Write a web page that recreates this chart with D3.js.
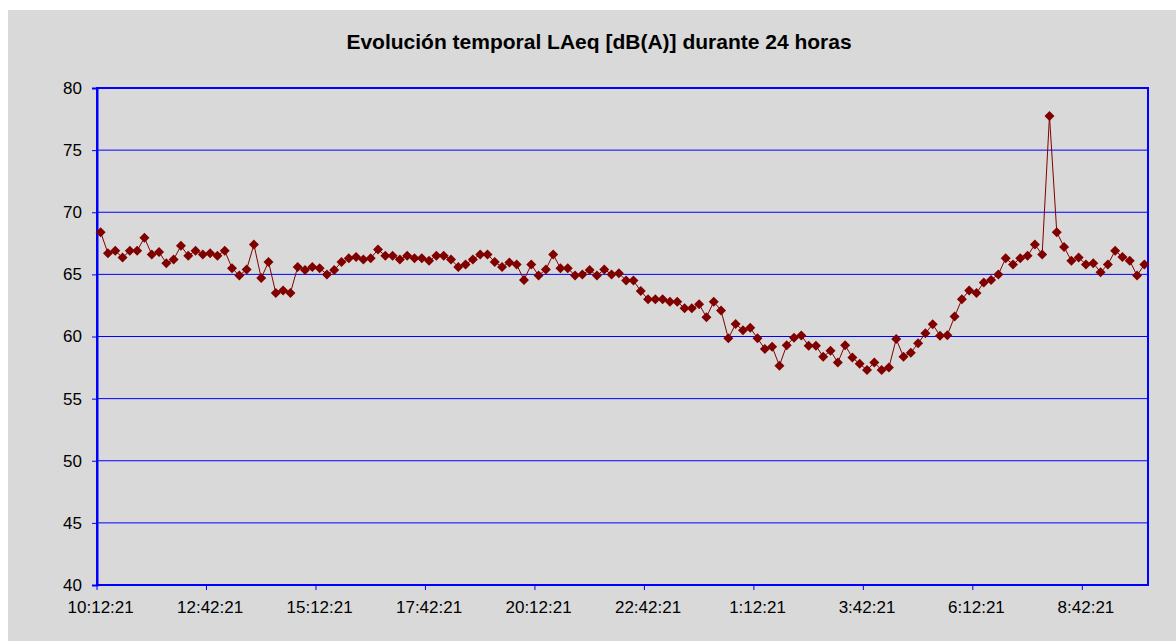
<!DOCTYPE html>
<html>
<head>
<meta charset="utf-8">
<script src="https://cdn.jsdelivr.net/npm/d3@7"></script>
<style>
  body { margin: 0; background: #fff; }
  svg { display: block; }
  text { font-family: "Liberation Sans", Arial, sans-serif; }
</style>
</head>
<body>
<svg id="chart" width="1176" height="641"></svg>
<script>
// LAeq, one value every 10 minutes starting 10:12:21
const laeq = [
  68.4, 66.7, 66.9, 66.35, 66.9, 66.9, 67.95, 66.6, 66.8, 65.9, 66.2, 67.3, 66.5, 66.9, 66.6, 66.7, 66.5, 66.9,
  65.5, 64.9, 65.4, 67.4, 64.7, 66.0, 63.5, 63.7, 63.5, 65.6, 65.35, 65.6, 65.5, 65.0, 65.35, 66.0, 66.3, 66.4,
  66.2, 66.3, 67.0, 66.5, 66.5, 66.2, 66.5, 66.3, 66.3, 66.1, 66.5, 66.5, 66.2, 65.6, 65.8, 66.2, 66.6, 66.6,
  66.0, 65.6, 65.95, 65.8, 64.55, 65.8, 64.9, 65.4, 66.6, 65.5, 65.5, 64.9, 65.0, 65.35, 64.9, 65.4, 65.0, 65.1,
  64.5, 64.5, 63.66, 63.0, 63.0, 63.0, 62.8, 62.8, 62.27, 62.27, 62.6, 61.55, 62.8, 62.1, 59.85, 61.0, 60.5, 60.7,
  59.85, 59.0, 59.18, 57.65, 59.3, 59.9, 60.08, 59.26, 59.26, 58.37, 58.86, 57.9, 59.3, 58.3, 57.8, 57.3, 57.9, 57.3,
  57.5, 59.8, 58.37, 58.7, 59.45, 60.26, 60.98, 60.07, 60.1, 61.6, 63.0, 63.7, 63.5, 64.35, 64.55, 65.0, 66.3, 65.8,
  66.3, 66.5, 67.4, 66.6, 77.75, 68.4, 67.2, 66.1, 66.35, 65.8, 65.9, 65.18, 65.8, 66.9, 66.4, 66.1, 64.9, 65.8
];
const startTime = [10, 12, 21];
const yTicks = [40, 45, 50, 55, 60, 65, 70, 75, 80];
const labelEvery = 15;
const title = "Evolución temporal LAeq [dB(A)] durante 24 horas";

// build the hh:mm:ss category labels
const times = laeq.map(function(v, i) {
  let m = startTime[0] * 60 + startTime[1] + i * 10;
  let h = Math.floor(m / 60) % 24;
  return h + ":" + String(m % 60).padStart(2, "0") + ":" + String(startTime[2]).padStart(2, "0");
});

const svg = d3.select("#chart");
const W = 1176, H = 641;
const margin = {top: 88, right: 28, bottom: 56, left: 97};

// chart area background (white strip left/top like the original)
svg.append("rect").attr("x", 8).attr("y", 10).attr("width", W - 8).attr("height", H - 10).attr("fill", "#d9d9d9");

const x = d3.scaleBand().domain(times).range([margin.left, W - margin.right]);
const y = d3.scaleLinear().domain([40, 80]).range([H - margin.bottom, margin.top]);

svg.append("text")
  .attr("x", 599).attr("y", 49)
  .attr("text-anchor", "middle")
  .attr("font-size", "21px").attr("font-weight", "bold")
  .text(title);

// grid lines
svg.append("g").selectAll("line")
  .data(yTicks.slice(1, -1))
  .join("line")
  .attr("x1", margin.left).attr("x2", W - margin.right)
  .attr("y1", d => y(d)).attr("y2", d => y(d))
  .attr("stroke", "#0000ff").attr("stroke-width", 1);

// plot frame
svg.append("rect")
  .attr("x", margin.left).attr("y", margin.top)
  .attr("width", W - margin.right - margin.left)
  .attr("height", H - margin.bottom - margin.top)
  .attr("fill", "none").attr("stroke", "#0000ff").attr("stroke-width", 2);

// y axis
const yAxis = d3.axisLeft(y).tickValues(yTicks).tickSize(5).tickPadding(10);
const gy = svg.append("g").attr("transform", `translate(${margin.left},0)`).call(yAxis);
gy.select(".domain").attr("stroke", "#0000ff").attr("stroke-width", 2);
gy.selectAll(".tick line").attr("stroke", "#0000ff");
gy.selectAll(".tick text").attr("font-size", "17px").attr("fill", "#000")
  .attr("font-family", "Liberation Sans, Arial, sans-serif");

// x axis: ticks at band starts, labels at band centres
const labelled = times.filter((t, i) => i % labelEvery == 0);
const gx = svg.append("g").attr("transform", `translate(0,${H - margin.bottom})`);
gx.append("line")
  .attr("x1", margin.left).attr("x2", W - margin.right)
  .attr("stroke", "#0000ff").attr("stroke-width", 2);
gx.selectAll(".tk").data(labelled).join("line")
  .attr("x1", d => x(d)).attr("x2", d => x(d))
  .attr("y1", 0).attr("y2", 5)
  .attr("stroke", "#0000ff");
gx.selectAll(".lbl").data(labelled).join("text")
  .attr("x", d => x(d) + x.bandwidth() / 2)
  .attr("y", 28)
  .attr("text-anchor", "middle")
  .attr("font-size", "17px")
  .text(d => d);

// series
const cx = (d, i) => x(times[i]) + x.bandwidth() / 2;
svg.append("path")
  .datum(laeq)
  .attr("fill", "none").attr("stroke", "#800000").attr("stroke-width", 1)
  .attr("d", d3.line().x(cx).y(d => y(d)));

svg.append("g").selectAll("path")
  .data(laeq)
  .join("path")
  .attr("transform", (d, i) => `translate(${cx(d, i)},${y(d)})`)
  .attr("d", "M0,-5L5,0L0,5L-5,0Z")
  .attr("fill", "#800000");
</script>
</body>
</html>
